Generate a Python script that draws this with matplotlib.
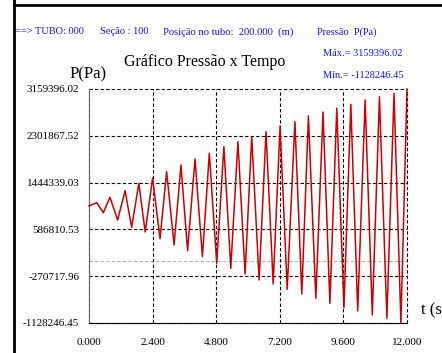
import numpy as np
import matplotlib
matplotlib.use("Agg")
import matplotlib.pyplot as plt
from matplotlib.lines import Line2D

plt.rcParams['font.family'] = ['Liberation Serif', 'DejaVu Serif']

# pressure signal at the section: successive peaks and valleys (t in s, P in Pa)
tempo = [0.00, 0.29, 0.54, 0.79, 1.08, 1.36, 1.61, 1.88, 2.12, 2.40, 2.68,
         2.93, 3.21, 3.47, 3.72, 4.00, 4.28, 4.54, 4.82, 5.09, 5.35, 5.62,
         5.89, 6.14, 6.42, 6.68, 6.95, 7.21, 7.48, 7.77, 8.03, 8.28, 8.56,
         8.83, 9.09, 9.35, 9.62, 9.88, 10.14, 10.42, 10.69, 10.96, 11.24,
         11.51, 11.77, 12.00]
pressao = [1015600, 1076000, 892800, 1175000, 759100, 1295900, 625300,
           1431500, 539200, 1528600, 416400, 1644100, 301000, 1766800,
           196600, 1876800, 86600, 1981200, -34300, 2102200, -125900,
           2193800, -230400, 2285400, -340300, 2377000, -413600, 2481400,
           -510700, 2560200, -596800, 2664700, -675600, 2738000, -767200,
           2805800, -847800, 2879100, -908300, 2957800, -981600, 3018300,
           -1042100, 3080600, -1128246.45, 3159396.02]

p_max = 3159396.02
p_min = -1128246.45
yticks = [3159396.02, 2301867.52, 1444339.03, 586810.53, -270717.96, -1128246.45]
xticks = [0.0, 2.4, 4.8, 7.2, 9.6, 12.0]

W, H = 442, 353
fig = plt.figure(figsize=(W / 100, H / 100), dpi=100)
fig.patch.set_facecolor('white')

def fx(px):
    return px / W

def fy(py):
    return 1 - py / H

ax = fig.add_axes([fx(89), fy(323), fx(407) - fx(89), fy(89) - fy(323)])
ax.set_facecolor('white')

ax.plot(tempo, pressao, color='#cc0000', linewidth=1.1, clip_on=False, zorder=3)

ax.set_xlim(0, 12)
ax.set_ylim(p_min, p_max)
ax.set_xticks(xticks)
ax.set_xticklabels(['%.3f' % t for t in xticks])
ax.set_yticks(yticks)
ax.set_yticklabels(['%.2f' % v for v in yticks])
ax.tick_params(length=0, labelsize=8)
ax.tick_params(axis='y', pad=7)
ax.tick_params(axis='x', pad=11)

# dashed grid, also serving as top/right border
ax.grid(True, color='black', linestyle=(0, (3, 2)), linewidth=0.8)
for gl in ax.get_xgridlines() + ax.get_ygridlines():
    gl.set_clip_on(False)
ax.axhline(0, color='#b0b0b0', linestyle=(0, (3, 2)), linewidth=0.8, zorder=1)

ax.spines['top'].set_visible(False)
ax.spines['right'].set_visible(False)
ax.spines['left'].set_color('#666666')
ax.spines['left'].set_linewidth(0.8)
ax.spines['bottom'].set_color('black')
ax.spines['bottom'].set_linewidth(0.8)

# window border
fig.add_artist(Line2D([fx(13.5), fx(13.5)], [0, 1], color='black', linewidth=2.0))
fig.add_artist(Line2D([fx(13.5), 1], [fy(4.5), fy(4.5)], color='black', linewidth=2.0))

azul = '#1010ff'
fig.text(fx(15), fy(32), '==> TUBO: 000', color=azul, fontsize=7.5, va='center')
fig.text(fx(100), fy(32), 'Seção : 100', color=azul, fontsize=7.5, va='center')
fig.text(fx(163), fy(32), 'Posição no tubo:  200.000  (m)', color=azul, fontsize=7.7, va='center')
fig.text(fx(317), fy(32), 'Pressão  P(Pa)', color=azul, fontsize=7.5, va='center')
fig.text(fx(323), fy(53), 'Máx.= %.2f' % p_max, color=azul, fontsize=7.5, va='center')
fig.text(fx(323), fy(75), 'Mín.= %.2f' % p_min, color=azul, fontsize=7.5, va='center')

fig.text(fx(124), fy(62), 'Gráfico Pressão x Tempo', fontsize=11.5, va='center')
fig.text(fx(70), fy(74), 'P(Pa)', fontsize=12, va='center')
fig.text(fx(421), fy(310), 't (s)', fontsize=12, va='center')

fig.savefig('out.png', dpi=100)
